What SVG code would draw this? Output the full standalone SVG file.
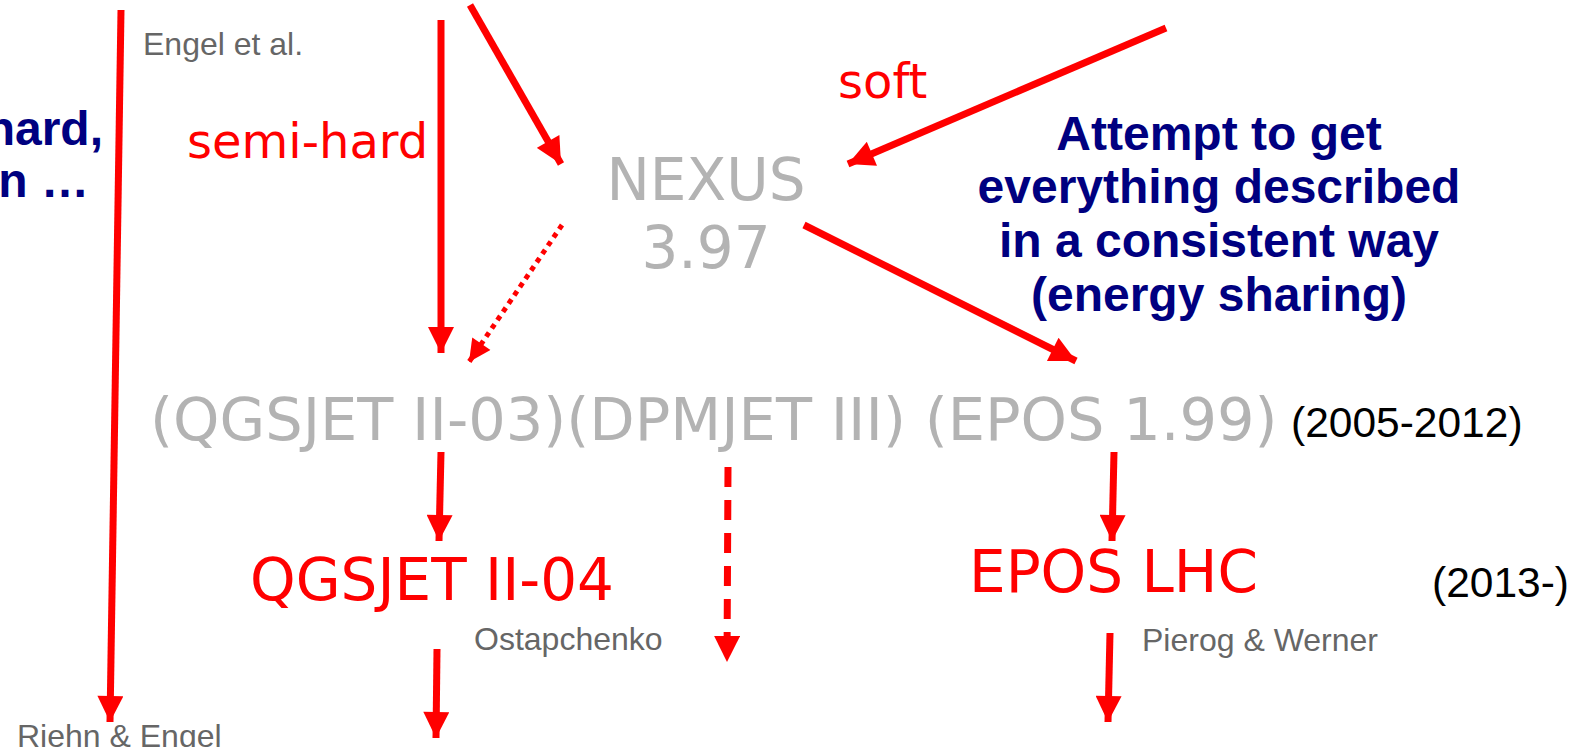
<svg xmlns="http://www.w3.org/2000/svg" width="1569" height="747" viewBox="0 0 1569 747">
<style>
.arr{stroke:#ff0000;stroke-width:7;fill:none;marker-end:url(#ah)}
.dot{stroke:#ff0000;stroke-width:5;fill:none;stroke-dasharray:5 5;marker-end:url(#ahs)}
.dash{stroke:#ff0000;stroke-width:7;fill:none;stroke-dasharray:20 13;marker-end:url(#ah)}
.big{font-family:"DejaVu Sans",sans-serif;font-size:58px}
.gray{fill:#b3b3b3}
.red{fill:#ff0000}
.lbl{font-family:"DejaVu Sans",sans-serif;font-size:48px;fill:#ff0000}
.blue{font-family:"Liberation Sans",Arial,sans-serif;font-weight:bold;font-size:48px;fill:#000080}
.auth{font-family:"Liberation Sans",Arial,sans-serif;font-size:32px;fill:#666666}
.yr{font-family:"Liberation Sans",Arial,sans-serif;font-size:42.5px;fill:#000000}
</style>
<defs>
<marker id="ah" viewBox="0 0 10 10" refX="10" refY="5" markerUnits="userSpaceOnUse" markerWidth="28" markerHeight="26" orient="auto"><path d="M0,0 L10,5 L0,10 z" fill="#ff0000"/></marker>
<marker id="ahs" viewBox="0 0 10 10" refX="10" refY="5" markerUnits="userSpaceOnUse" markerWidth="24" markerHeight="22" orient="auto"><path d="M0,0 L10,5 L0,10 z" fill="#ff0000"/></marker>
</defs>
<g id="connectors">
<line class="arr" x1="121" y1="10" x2="110" y2="722"/>
<line class="arr" x1="441" y1="20" x2="441" y2="353"/>
<line class="arr" x1="470" y1="5" x2="561" y2="164"/>
<line class="dot" x1="562" y1="225" x2="469" y2="362"/>
<line class="arr" x1="1166" y1="28" x2="848" y2="164"/>
<line class="arr" x1="804" y1="225" x2="1076" y2="361"/>
<line class="arr" x1="441" y1="452" x2="439" y2="541"/>
<line class="dash" x1="728" y1="467" x2="727" y2="662"/>
<line class="arr" x1="1114" y1="452" x2="1112" y2="541"/>
<line class="arr" x1="437" y1="649" x2="436" y2="738"/>
<line class="arr" x1="1110" y1="633" x2="1108" y2="722"/>
</g>
<g id="left-note">
<text class="blue" text-anchor="end" x="103" y="145">hard,</text>
<text class="blue" text-anchor="end" x="89" y="197">n …</text>
</g>
<g id="engel"><text class="auth" x="143" y="55">Engel et al.</text></g>
<g id="semihard"><text class="lbl" x="187" y="158">semi-hard</text></g>
<g id="soft"><text class="lbl" x="838" y="98">soft</text></g>
<g id="nexus">
<text class="big gray" text-anchor="middle" x="706" y="200">NEXUS</text>
<text class="big gray" text-anchor="middle" x="706" y="268">3.97</text>
</g>
<g id="attempt">
<text class="blue" text-anchor="middle" x="1219" y="150">Attempt to get</text>
<text class="blue" text-anchor="middle" x="1219" y="203">everything described</text>
<text class="blue" text-anchor="middle" x="1219" y="257">in a consistent way</text>
<text class="blue" text-anchor="middle" x="1219" y="311">(energy sharing)</text>
</g>
<g id="models-2005"><text class="big gray" x="150" y="440" style="font-size:59px">(QGSJET II-03)(DPMJET III) (EPOS 1.99)</text></g>
<g id="year-2005"><text class="yr" x="1291" y="437">(2005-2012)</text></g>
<g id="qgsjet04"><text class="big red" x="250" y="600">QGSJET II-04</text></g>
<g id="eposlhc"><text class="big red" x="969" y="592">EPOS LHC</text></g>
<g id="year-2013"><text class="yr" x="1432" y="597">(2013-)</text></g>
<g id="ostapchenko"><text class="auth" x="474" y="650">Ostapchenko</text></g>
<g id="pierog"><text class="auth" x="1142" y="651">Pierog &amp; Werner</text></g>
<g id="riehn"><text class="auth" x="17" y="747">Riehn &amp; Engel</text></g>
</svg>
